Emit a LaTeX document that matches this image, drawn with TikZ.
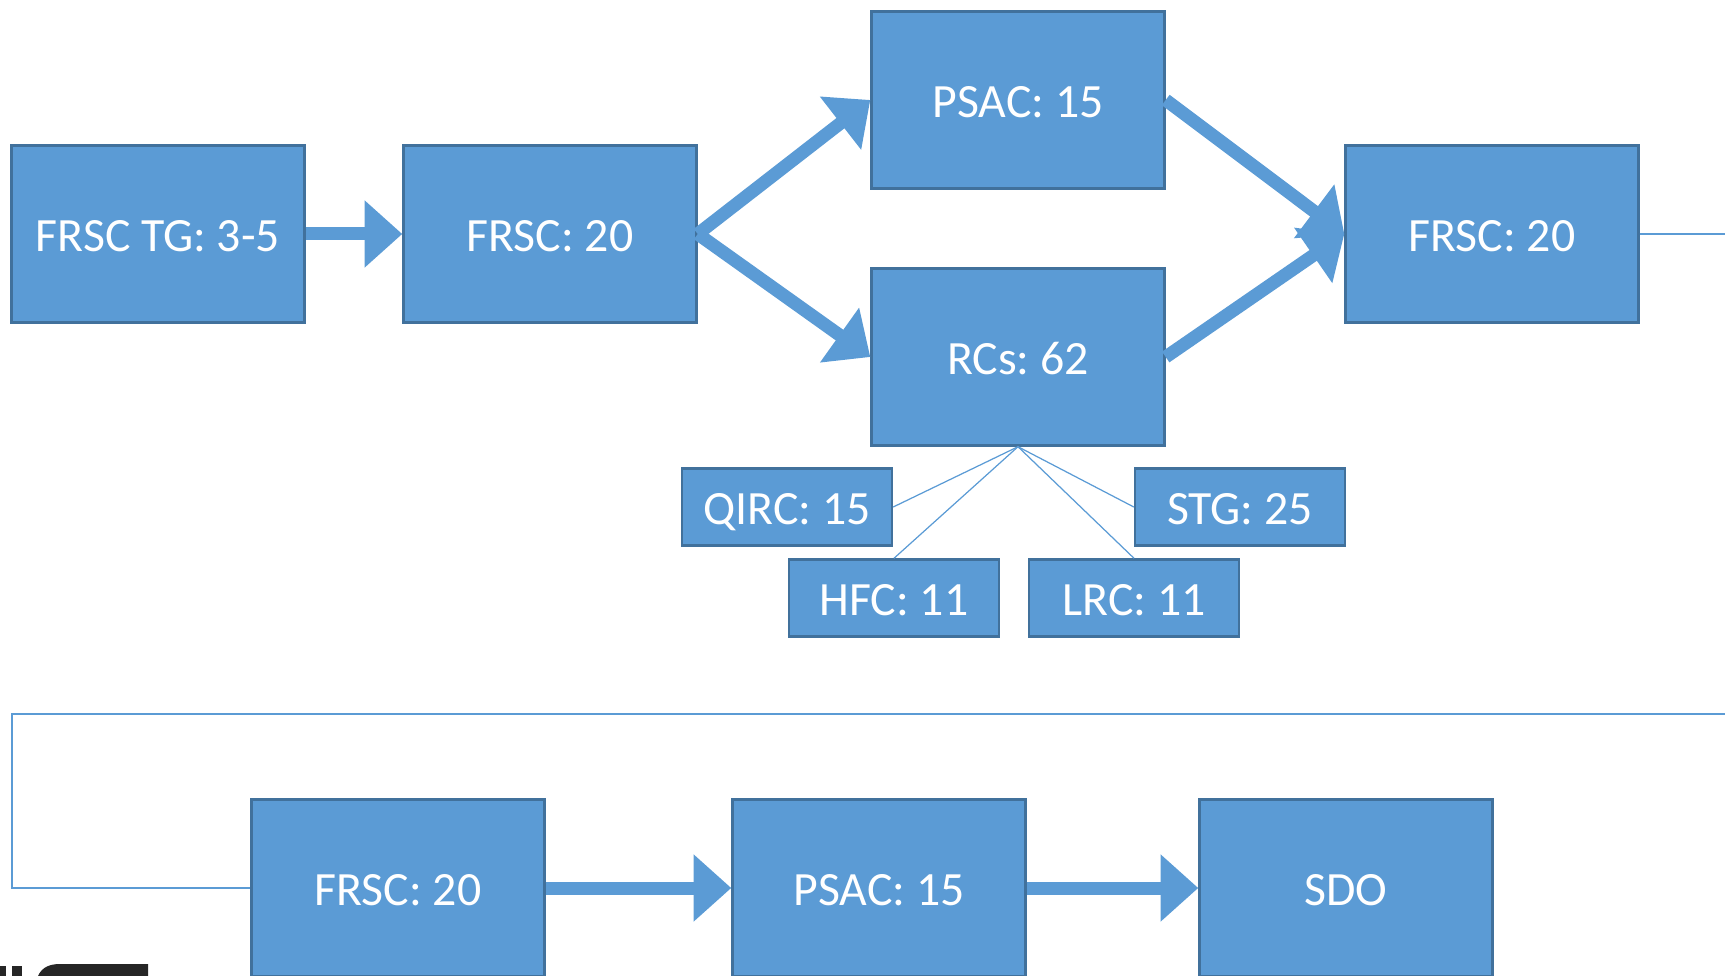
\documentclass[tikz,border=0pt]{standalone}
\usepackage{fontspec}
\setmainfont{Carlito}
\usetikzlibrary{arrows.meta}
\definecolor{boxblue}{HTML}{5B9BD5}
\definecolor{edgeblue}{HTML}{41719C}
\frenchspacing

\begin{document}
\begin{tikzpicture}[x=0.02cm,y=-0.02cm,
    blk/.style={draw=edgeblue,line width=1.4pt,fill=boxblue,text=white,
      minimum width=5.86cm,minimum height=3.54cm,text height=20pt,text depth=0pt,
      font=\fontsize{27.2}{32}\selectfont},
    sub/.style={blk,minimum width=4.2cm,minimum height=1.54cm},
    fat/.style={draw=boxblue,line width=7.4pt,-{Triangle[length=21.5pt,width=37pt]}},
    wire/.style={draw=boxblue,line width=0.7pt}]
  \useasboundingbox (0,0) rectangle (1725,976);
  % first row
  \node[blk] (TG) at (158,234) {FRSC TG: 3-5};
  \node[blk] (F1) at (550,234) {FRSC: 20};
  \node[blk] (PS) at (1018,100) {PSAC: 15};
  \node[blk] (RC) at (1018,357) {RCs: 62};
  \node[blk] (F2) at (1492,234) {FRSC: 20};
  % parts of RCs
  \node[sub] (QI) at (787,507) {QIRC: 15};
  \node[sub] (ST) at (1240,507) {STG: 25};
  \node[sub] (HF) at (894,598) {HFC: 11};
  \node[sub] (LR) at (1134,598) {LRC: 11};
  % second row
  \node[blk] (F3) at (398,888) {FRSC: 20};
  \node[blk] (P2) at (879,888) {PSAC: 15};
  \node[blk] (SD) at (1346,888) {SDO};
  \coordinate (R1) at (1725,234);
  \coordinate (R2) at (1725,714);
  \coordinate (L) at (12,714);
  \path[fat] (TG.east) -- (F1.west);
  \path[fat] (F1.east) -- (PS.west);
  \path[fat] (F1.east) -- (RC.west);
  \path[fat] (PS.east) -- (F2.west);
  \path[fat] (RC.east) -- (F2.west);
  \path[fat] (F3.east) -- (P2.west);
  \path[fat] (P2.east) -- (SD.west);
  \draw[wire] (RC.south) -- (QI.east);
  \draw[wire] (RC.south) -- (HF.north);
  \draw[wire] (RC.south) -- (LR.north);
  \draw[wire] (RC.south) -- (ST.west);
  \draw[wire] (F2.east) -- (R1);
  \draw[wire] (R2) -- (L) |- (F3.west);
  % cut logo at the bottom
  \fill[black!85] (0,966) rectangle (6,976);
  \fill[black!85] (12,966) rectangle (22,976);
  \fill[black!85] (38,976) .. controls (42,967) and (50,964) .. (60,964)
    -- (148,964) -- (148,976) -- cycle;
\end{tikzpicture}
\end{document}
